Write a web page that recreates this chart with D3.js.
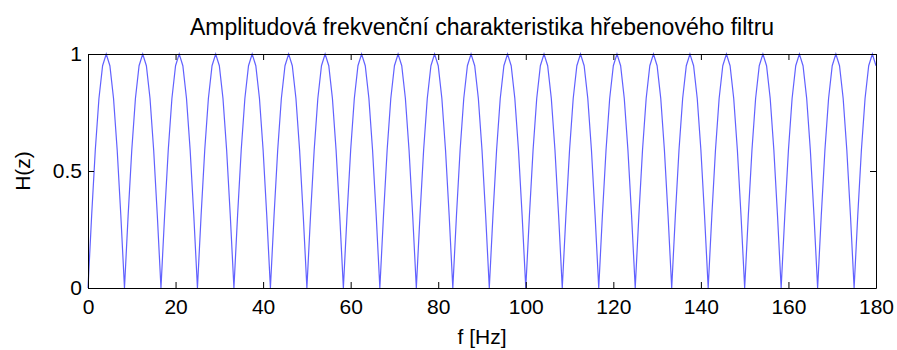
<!DOCTYPE html>
<html>
<head>
<meta charset="utf-8">
<script src="https://cdn.jsdelivr.net/npm/d3@7"></script>
<style>
  body { margin: 0; background: #fff; }
  text { font-family: "Liberation Sans", Arial, sans-serif; fill: #000; }
</style>
</head>
<body>
<div class="chart"></div>
<script>
// |H| values, one sample every fStep Hz from 0 Hz to 180 Hz
var fStep = 25 / 30;
var hVals = [
  0, .31, .59, .81, .95, 1, .95, .81, .59, .31,
  0, .31, .59, .81, .95, 1, .95, .81, .59, .31,
  0, .31, .59, .81, .95, 1, .95, .81, .59, .31,
  0, .31, .59, .81, .95, 1, .95, .81, .59, .31,
  0, .31, .59, .81, .95, 1, .95, .81, .59, .31,
  0, .31, .59, .81, .95, 1, .95, .81, .59, .31,
  0, .31, .59, .81, .95, 1, .95, .81, .59, .31,
  0, .31, .59, .81, .95, 1, .95, .81, .59, .31,
  0, .31, .59, .81, .95, 1, .95, .81, .59, .31,
  0, .31, .59, .81, .95, 1, .95, .81, .59, .31,
  0, .31, .59, .81, .95, 1, .95, .81, .59, .31,
  0, .31, .59, .81, .95, 1, .95, .81, .59, .31,
  0, .31, .59, .81, .95, 1, .95, .81, .59, .31,
  0, .31, .59, .81, .95, 1, .95, .81, .59, .31,
  0, .31, .59, .81, .95, 1, .95, .81, .59, .31,
  0, .31, .59, .81, .95, 1, .95, .81, .59, .31,
  0, .31, .59, .81, .95, 1, .95, .81, .59, .31,
  0, .31, .59, .81, .95, 1, .95, .81, .59, .31,
  0, .31, .59, .81, .95, 1, .95, .81, .59, .31,
  0, .31, .59, .81, .95, 1, .95, .81, .59, .31,
  0, .31, .59, .81, .95, 1, .95, .81, .59, .31,
  0, .31, .59, .81, .95, 1, .95
];
var xTicks = [0, 20, 40, 60, 80, 100, 120, 140, 160, 180];
var yTicks = [0, 0.5, 1];
var yTickLabels = ["0", "0.5", "1"];

var svgWidth = 897;
var svgHeight = 350;
var margin = { top: 54, right: 21, bottom: 62, left: 88 };
var width = svgWidth - margin.left - margin.right;
var height = svgHeight - margin.top - margin.bottom;

var svg = d3.select(".chart")
  .append("svg")
  .attr("width", svgWidth)
  .attr("height", svgHeight);

var chartGroup = svg.append("g")
  .attr("transform", `translate(${margin.left}, ${margin.top})`);

var x = d3.scaleLinear().domain([0, 180]).range([0, width]);
var y = d3.scaleLinear().domain([0, 1]).range([height, 0]);

var points = hVals.map((h, i) => ({ f: i * fStep, h: h }));

var line = d3.line()
  .x(d => x(d.f))
  .y(d => y(d.h));

chartGroup.append("path")
  .datum(points)
  .attr("d", line)
  .attr("fill", "none")
  .attr("stroke", "#3a3aff")
  .attr("stroke-opacity", 0.8)
  .attr("stroke-width", 1.2);

// MATLAB-style box with inward ticks
var tickLen = 6;
var bottomAxis = d3.axisBottom(x).tickValues(xTicks).tickSizeInner(-tickLen).tickSizeOuter(0).tickPadding(11);
var topAxis = d3.axisTop(x).tickValues(xTicks).tickSizeInner(-tickLen).tickSizeOuter(0).tickFormat("");
var leftAxis = d3.axisLeft(y).tickValues(yTicks).tickSizeInner(-tickLen).tickSizeOuter(0).tickPadding(6)
  .tickFormat((d, i) => yTickLabels[i]);
var rightAxis = d3.axisRight(y).tickValues(yTicks).tickSizeInner(-tickLen).tickSizeOuter(0).tickFormat("");

chartGroup.append("g").attr("transform", `translate(0, ${height})`).call(bottomAxis);
chartGroup.append("g").call(topAxis);
chartGroup.append("g").call(leftAxis);
chartGroup.append("g").attr("transform", `translate(${width}, 0)`).call(rightAxis);

chartGroup.selectAll(".domain").attr("stroke", "#000").attr("stroke-width", 1);
chartGroup.selectAll(".tick line").attr("stroke", "#000");
chartGroup.selectAll(".tick text")
  .style("font-family", "'Liberation Sans', Arial, sans-serif")
  .attr("font-size", 21);

svg.append("text")
  .attr("x", margin.left + width / 2)
  .attr("y", 35)
  .attr("text-anchor", "middle")
  .attr("font-size", 23)
  .text("Amplitudová frekvenční charakteristika hřebenového filtru");

svg.append("text")
  .attr("x", margin.left + width / 2)
  .attr("y", 344)
  .attr("text-anchor", "middle")
  .attr("font-size", 21)
  .text("f [Hz]");

svg.append("text")
  .attr("transform", `translate(30, ${margin.top + height / 2}) rotate(-90)`)
  .attr("text-anchor", "middle")
  .attr("font-size", 21)
  .text("H(z)");
</script>
</body>
</html>
